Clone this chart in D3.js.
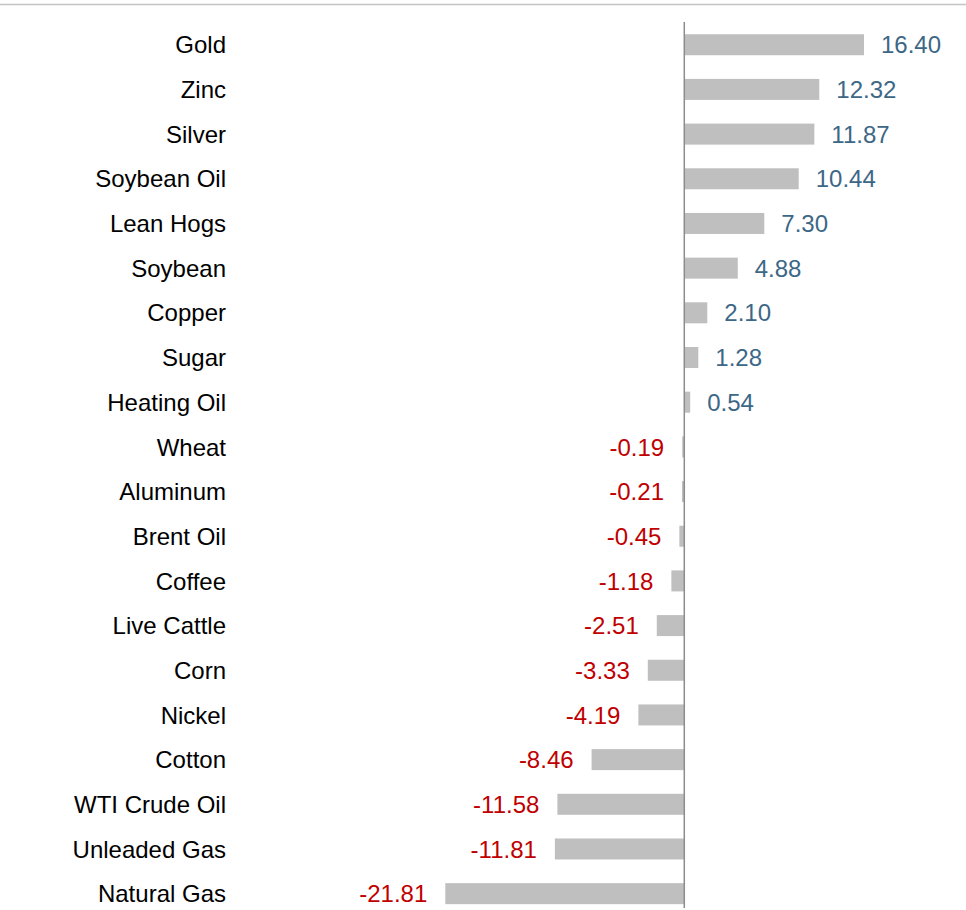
<!DOCTYPE html>
<html lang="en">
<head>
<meta charset="UTF-8">
<title>Commodity returns</title>
<style>
  body { margin: 0; background: #fff; }
  svg { display: block; font-family: "Liberation Sans", Arial, sans-serif; }
</style>
</head>
<body>
<div id="chart"></div>
<script src="https://d3js.org/d3.v7.min.js"></script>
<script>
var commodities = ["Gold", "Zinc", "Silver", "Soybean Oil", "Lean Hogs", "Soybean", "Copper", "Sugar",
  "Heating Oil", "Wheat", "Aluminum", "Brent Oil", "Coffee", "Live Cattle", "Corn", "Nickel",
  "Cotton", "WTI Crude Oil", "Unleaded Gas", "Natural Gas"];
var returns = [16.40, 12.32, 11.87, 10.44, 7.30, 4.88, 2.10, 1.28, 0.54, -0.19, -0.21, -0.45,
  -1.18, -2.51, -3.33, -4.19, -8.46, -11.58, -11.81, -21.81];

var width = 966, height = 910;

var svg = d3.select("#chart").append("svg")
    .attr("width", width)
    .attr("height", height);

// top rule
svg.append("line")
    .attr("x1", 0).attr("x2", width)
    .attr("y1", 4.5).attr("y2", 4.5)
    .attr("stroke", "#c4c4c4").attr("stroke-width", 1.5);

// x scale: zero sits at 684
var x = d3.scaleLinear()
    .domain([-21.81, 16.40])
    .range([445.3, 864]);

var y = d3.scaleBand()
    .domain(commodities)
    .range([22.4, 916])
    .paddingInner(0.53)
    .paddingOuter(0.265);

var data = commodities.map(function(c, i) { return {name: c, value: returns[i]}; });

svg.append("g").selectAll("rect")
    .data(data)
    .enter().append("rect")
    .attr("x", function(d) { return x(Math.min(0, d.value)); })
    .attr("y", function(d) { return y(d.name); })
    .attr("width", function(d) { return Math.abs(x(d.value) - x(0)); })
    .attr("height", y.bandwidth())
    .attr("fill", "#bfbfbf");

// zero line
svg.append("line")
    .attr("x1", x(0)).attr("x2", x(0))
    .attr("y1", 22).attr("y2", 908)
    .attr("stroke", "#8c8c8c").attr("stroke-width", 1.5);

// category labels
svg.append("g").selectAll("text")
    .data(data)
    .enter().append("text")
    .attr("x", 226)
    .attr("y", function(d) { return y(d.name) + y.bandwidth() / 2; })
    .attr("dy", "0.36em")
    .attr("text-anchor", "end")
    .attr("font-size", "24px")
    .attr("fill", "#000")
    .text(function(d) { return d.name; });

// value labels
svg.append("g").selectAll("text")
    .data(data)
    .enter().append("text")
    .attr("x", function(d) { return d.value >= 0 ? x(d.value) + 17 : x(d.value) - 18; })
    .attr("y", function(d) { return y(d.name) + y.bandwidth() / 2; })
    .attr("dy", "0.36em")
    .attr("text-anchor", function(d) { return d.value >= 0 ? "start" : "end"; })
    .attr("font-size", "24px")
    .attr("fill", function(d) { return d.value >= 0 ? "#3d6786" : "#c00000"; })
    .text(function(d) { return d.value.toFixed(2); });
</script>
</body>
</html>
